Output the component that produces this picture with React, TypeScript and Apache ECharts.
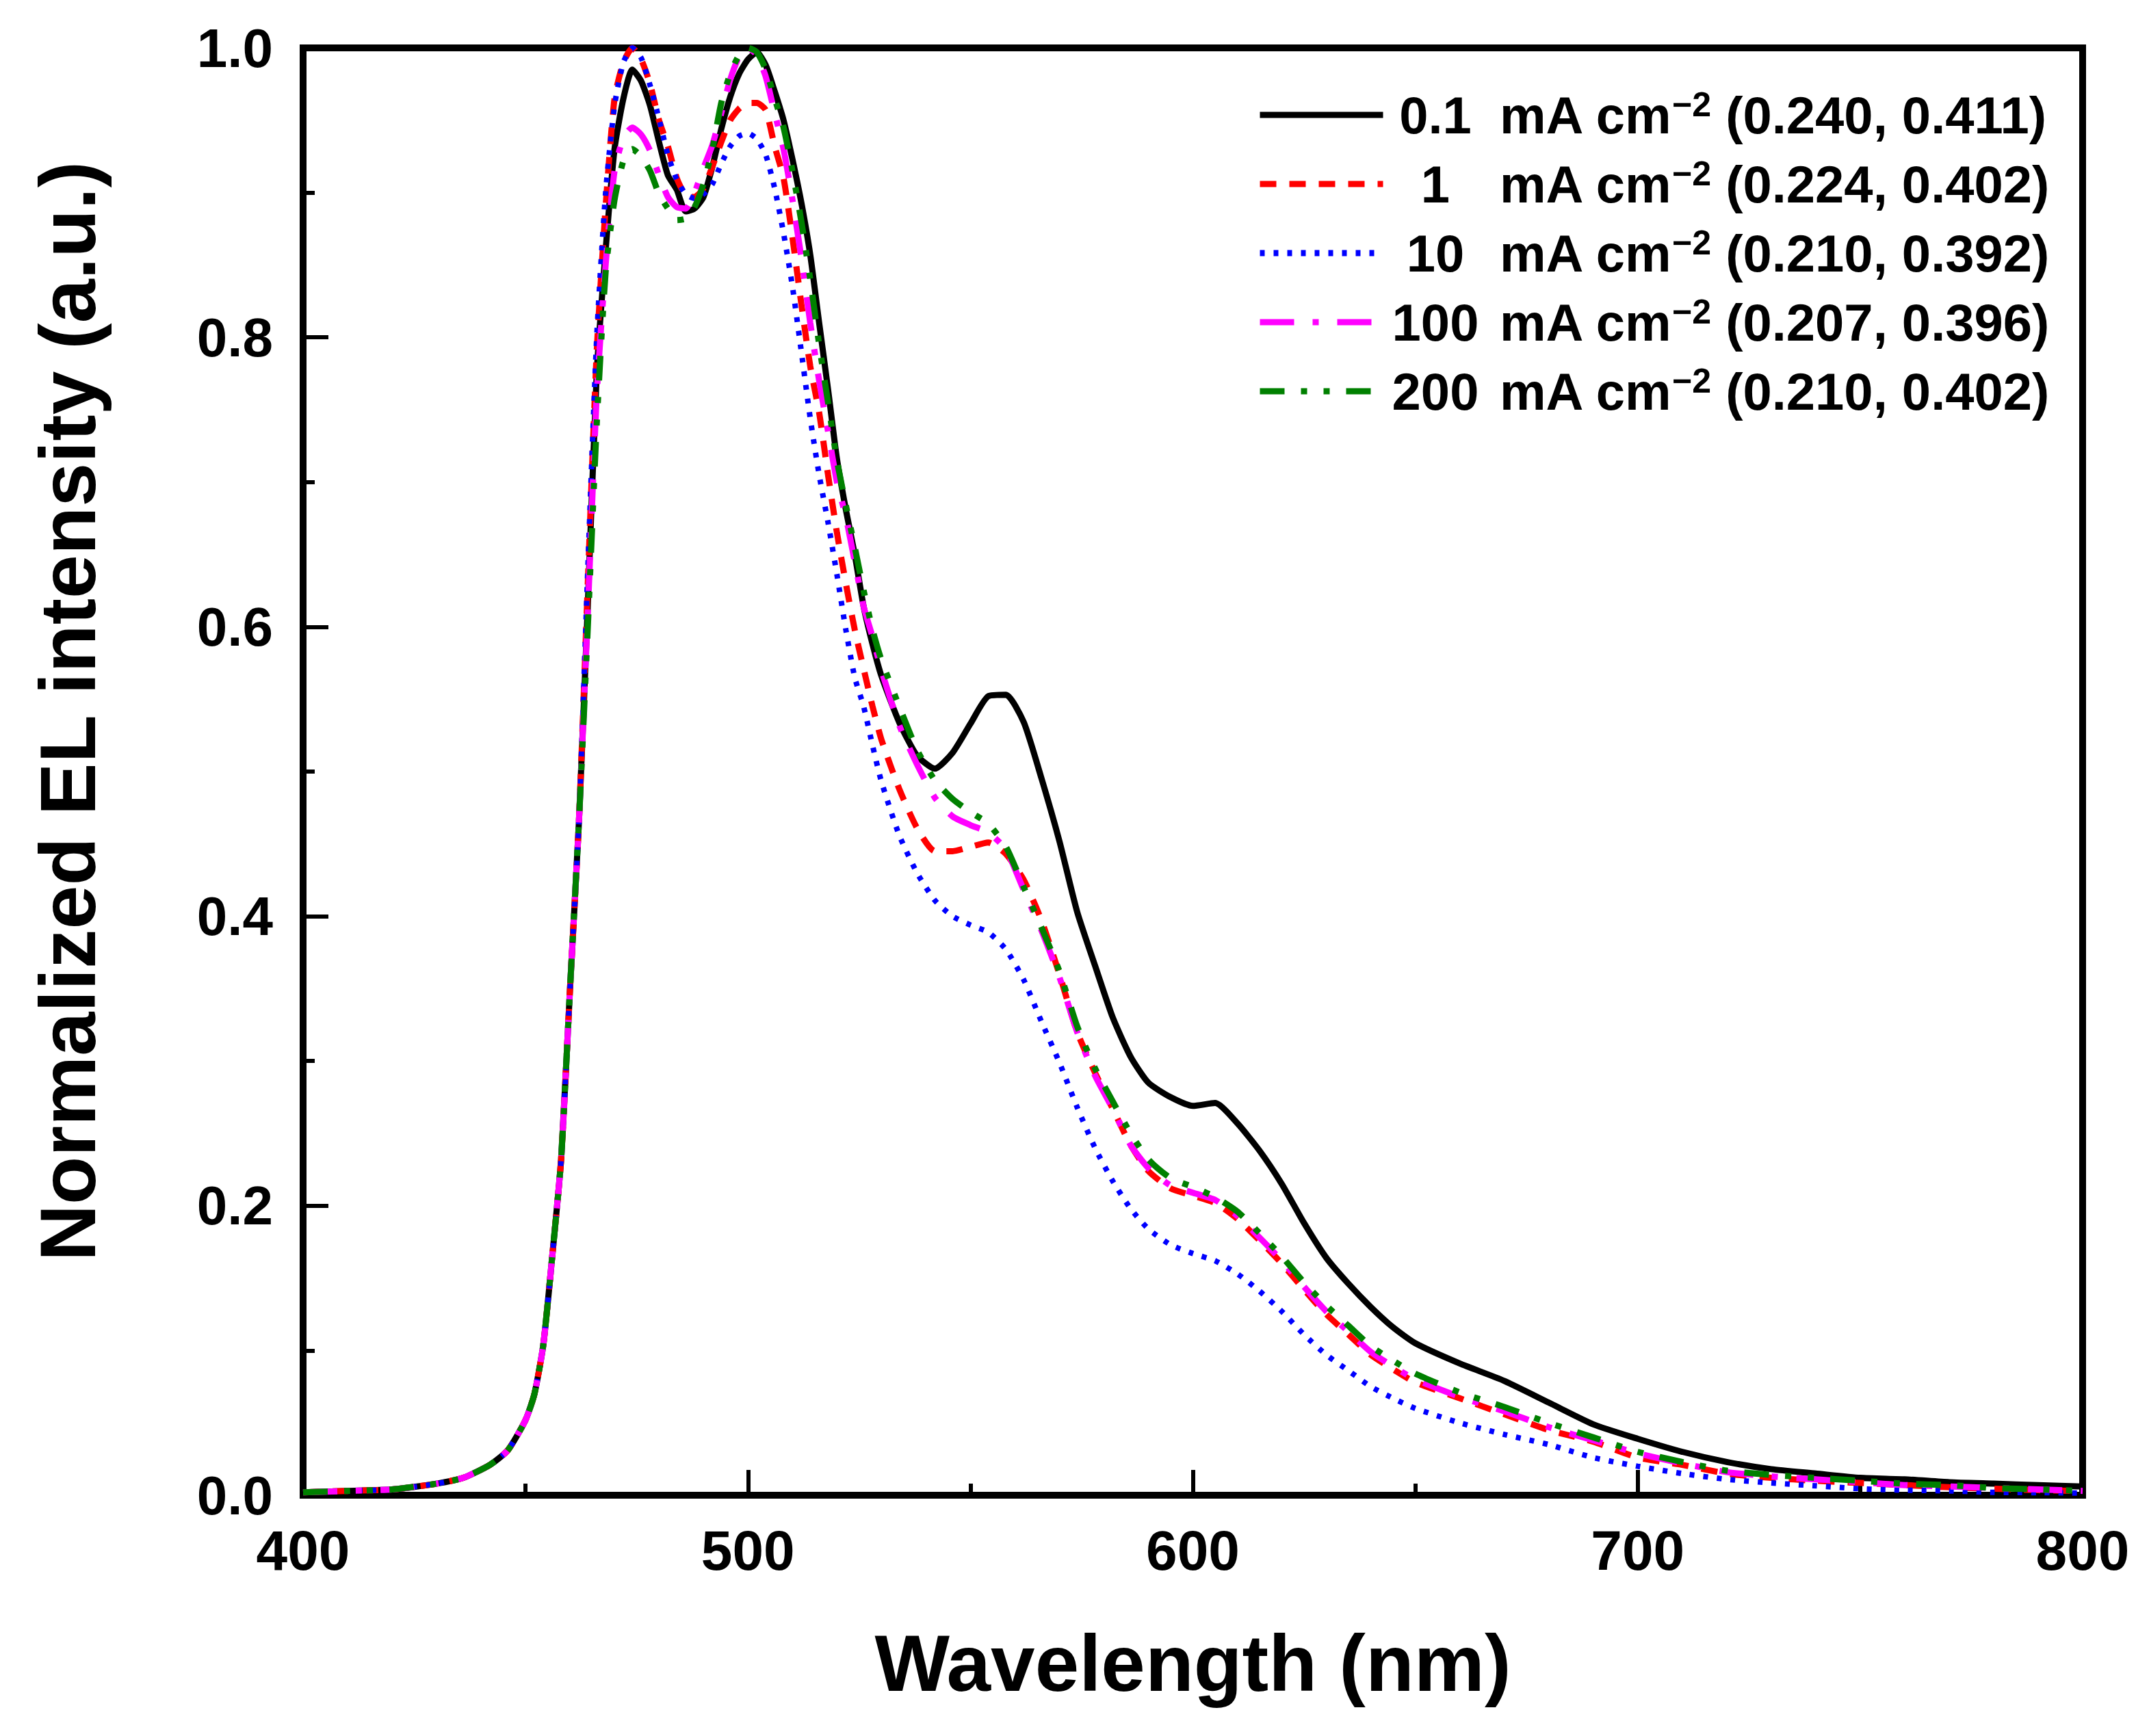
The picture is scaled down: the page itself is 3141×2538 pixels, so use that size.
import { useEffect, useRef } from 'react';
import * as echarts from 'echarts';

// 波长采样点 (nm)
const WAVELENGTH = [
  400, 410, 420, 430, 436, 442, 446, 450, 452, 454, 456, 458, 460, 462,
  464, 466, 468, 470, 472, 474, 476, 478, 480, 482, 484, 486, 488, 490, 492, 494, 496, 498, 500,
  502, 504, 506, 508, 510, 512, 514, 516, 518, 520, 522, 524, 526, 528, 530,
  534, 538, 542, 546, 550, 554, 558, 562, 566, 570, 574, 578, 582, 586, 590,
  595, 600, 605, 610, 615, 620, 625, 630, 635, 640, 645, 650,
  660, 670, 680, 690, 700, 710, 720, 730, 740, 750, 760, 770, 780, 790, 800,
];

// 上升沿（五条曲线几乎重合）
const RISE = [0.002, 0.003, 0.004, 0.008, 0.012, 0.021, 0.031, 0.052, 0.07, 0.104, 0.165, 0.232, 0.35, 0.465];

const EL_0_1 = [...RISE,
  0.615, 0.775, 0.86, 0.93, 0.965, 0.985, 0.977, 0.96, 0.935, 0.912, 0.902, 0.887, 0.889, 0.897, 0.918, 0.944, 0.966, 0.982, 0.992,
  0.997, 0.988, 0.97, 0.95, 0.923, 0.893, 0.857, 0.81, 0.764, 0.716, 0.681, 0.65, 0.614, 0.588, 0.566,
  0.534, 0.511, 0.502, 0.513, 0.533, 0.552, 0.553, 0.534, 0.495, 0.452, 0.403, 0.366, 0.33, 0.303, 0.285,
  0.275, 0.269, 0.271, 0.257, 0.238, 0.215, 0.188, 0.164, 0.146, 0.13, 0.116, 0.105,
  0.091, 0.079, 0.064, 0.049, 0.039, 0.03, 0.023, 0.018, 0.015, 0.012, 0.011, 0.009, 0.008, 0.007, 0.006];

const EL_1 = [...RISE,
  0.63, 0.79, 0.89, 0.965, 0.99, 1.0, 0.992, 0.975, 0.95, 0.932, 0.91, 0.898, 0.897, 0.903, 0.918, 0.935, 0.95, 0.958, 0.962,
  0.962, 0.957, 0.932, 0.91, 0.869, 0.823, 0.78, 0.748, 0.705, 0.665, 0.63, 0.598, 0.571, 0.545, 0.522,
  0.488, 0.461, 0.445, 0.445, 0.448, 0.451, 0.443, 0.425, 0.397, 0.36, 0.32, 0.292, 0.267, 0.242, 0.224,
  0.212, 0.207, 0.202, 0.191, 0.176, 0.16, 0.142, 0.125, 0.111, 0.097, 0.087, 0.078,
  0.067, 0.056, 0.045, 0.037, 0.026, 0.021, 0.015, 0.012, 0.01, 0.0085, 0.007, 0.0055, 0.0045, 0.0035, 0.003];

const EL_10 = [...RISE,
  0.64, 0.8, 0.9, 0.96, 0.99, 1.0, 0.993, 0.974, 0.951, 0.926, 0.909, 0.899, 0.896, 0.899, 0.906, 0.92, 0.932, 0.939, 0.941,
  0.937, 0.926, 0.903, 0.872, 0.835, 0.79, 0.744, 0.705, 0.672, 0.636, 0.598, 0.565, 0.545, 0.518, 0.493,
  0.456, 0.43, 0.411, 0.4, 0.394, 0.389, 0.377, 0.356, 0.327, 0.299, 0.268, 0.24, 0.217, 0.198, 0.184,
  0.173, 0.167, 0.162, 0.153, 0.141, 0.127, 0.111, 0.097, 0.086, 0.075, 0.067, 0.06,
  0.05, 0.042, 0.035, 0.026, 0.02, 0.015, 0.011, 0.0085, 0.0065, 0.0045, 0.0035, 0.003, 0.002, 0.0018, 0.0015];

const EL_100 = [...RISE,
  0.61, 0.76, 0.85, 0.915, 0.938, 0.945, 0.94, 0.929, 0.912, 0.897, 0.89, 0.889, 0.9, 0.917, 0.933, 0.955, 0.978, 0.994, 1.0,
  0.995, 0.98, 0.955, 0.93, 0.895, 0.855, 0.81, 0.77, 0.735, 0.7, 0.676, 0.645, 0.614, 0.593, 0.57,
  0.532, 0.505, 0.482, 0.469, 0.463, 0.458, 0.446, 0.418, 0.39, 0.358, 0.32, 0.29, 0.267, 0.242, 0.226,
  0.214, 0.209, 0.204, 0.193, 0.178, 0.162, 0.144, 0.127, 0.113, 0.099, 0.089, 0.08,
  0.068, 0.058, 0.047, 0.038, 0.029, 0.022, 0.016, 0.013, 0.011, 0.009, 0.007, 0.006, 0.005, 0.004, 0.003];

const EL_200 = [...RISE,
  0.6, 0.74, 0.845, 0.895, 0.922, 0.93, 0.925, 0.915, 0.899, 0.889, 0.881, 0.882, 0.89, 0.906, 0.93, 0.962, 0.982, 0.995, 1.0,
  0.997, 0.985, 0.965, 0.945, 0.915, 0.88, 0.84, 0.795, 0.755, 0.715, 0.684, 0.655, 0.625, 0.598, 0.577,
  0.545, 0.515, 0.494, 0.481, 0.472, 0.464, 0.448, 0.42, 0.392, 0.362, 0.324, 0.295, 0.272, 0.25, 0.232,
  0.219, 0.213, 0.206, 0.196, 0.181, 0.165, 0.147, 0.131, 0.117, 0.103, 0.093, 0.084,
  0.071, 0.061, 0.05, 0.04, 0.03, 0.023, 0.017, 0.014, 0.012, 0.01, 0.008, 0.007, 0.005, 0.004, 0.003];

// 图例：电流密度与 CIE 坐标
const CURRENT = ['0.1', '1', '10', '100', '200'];
const CIE = ['(0.240, 0.411)', '(0.224, 0.402)', '(0.210, 0.392)', '(0.207, 0.396)', '(0.210, 0.402)'];
const VALUES = [EL_0_1, EL_1, EL_10, EL_100, EL_200];

const COLORS = ['#000000', '#ff0000', '#0000ff', '#ff00ff', '#008000'];
const DASHES: any[] = ['solid', [24, 19], [7, 13], [50, 27, 9, 27], [36, 24, 9, 24, 9, 24]];
const WIDTHS = [9, 9, 8, 9, 9];

const FONT = 'Arial, "Liberation Sans", sans-serif';

const App: React.FC = () => {
  const chartRef = useRef<HTMLDivElement>(null);

  useEffect(() => {
    if (!chartRef.current) return;
    document.body.style.margin = '0';
    const chart = echarts.init(chartRef.current, undefined, { renderer: 'svg' });

    const names = CURRENT.map((c, i) => `${c} mA cm-2 ${CIE[i]}`);

    chart.setOption({
      animation: false,
      backgroundColor: '#ffffff',
      grid: {
        show: true,
        borderColor: '#000',
        borderWidth: 10,
        left: 443,
        right: 97,
        top: 70,
        bottom: 352,
      },
      legend: {
        orient: 'vertical',
        left: 1837,
        top: 128,
        padding: 0,
        itemWidth: 180,
        itemHeight: 40,
        itemGap: 23,
        selectedMode: false,
        itemStyle: { opacity: 0 },
        lineStyle: { width: 9 },
        data: names,
        formatter: (name: string) => {
          const i = names.indexOf(name);
          return `{n|${CURRENT[i]}}{u| mA cm}{s|\u22122}{u| ${CIE[i]}}`;
        },
        textStyle: {
          rich: {
            n: { width: 143, align: 'center', fontSize: 76, fontWeight: 'bold', fontFamily: FONT, lineHeight: 80, color: '#000' },
            u: { fontSize: 76, fontWeight: 'bold', fontFamily: FONT, lineHeight: 80, color: '#000' },
            s: { fontSize: 50, fontWeight: 'bold', fontFamily: FONT, lineHeight: 24, verticalAlign: 'top', color: '#000' },
          },
        },
      },
      xAxis: {
        type: 'value',
        min: 400,
        max: 800,
        interval: 100,
        name: 'Wavelength (nm)',
        nameLocation: 'middle',
        nameGap: 188,
        nameTextStyle: { fontSize: 116, fontWeight: 'bold', fontFamily: FONT, color: '#000' },
        axisLine: { lineStyle: { color: '#000', width: 10 } },
        axisTick: { inside: true, length: 37, lineStyle: { color: '#000', width: 6 } },
        minorTick: { show: true, splitNumber: 2, length: 17, lineStyle: { color: '#000', width: 6 } },
        axisLabel: { fontSize: 82, fontWeight: 'bold', fontFamily: FONT, color: '#000', margin: 39 },
        splitLine: { show: false },
      },
      yAxis: {
        type: 'value',
        min: 0,
        max: 1,
        interval: 0.2,
        axisLine: { show: true, lineStyle: { color: '#000', width: 10 } },
        axisTick: { show: true, inside: true, length: 37, lineStyle: { color: '#000', width: 6 } },
        minorTick: { show: true, splitNumber: 2, length: 17, lineStyle: { color: '#000', width: 6 } },
        axisLabel: {
          fontSize: 80, fontWeight: 'bold', fontFamily: FONT, color: '#000', margin: 44,
          formatter: (v: number) => v.toFixed(1),
        },
        splitLine: { show: false },
      },
      graphic: [
        {
          type: 'text',
          x: 99,
          y: 1040,
          rotation: Math.PI / 2,
          style: {
            text: 'Normalized EL intensity (a.u.)',
            fontSize: 115,
            fontWeight: 'bold',
            fontFamily: FONT,
            fill: '#000',
            align: 'center',
            verticalAlign: 'middle',
          },
        },
      ],
      series: VALUES.map((vals, i) => ({
        name: names[i],
        type: 'line',
        symbol: 'none',
        smooth: 0.2,
        silent: true,
        z: 2 + i,
        data: WAVELENGTH.map((w, k) => [w, vals[k]]),
        lineStyle: { color: COLORS[i], width: WIDTHS[i], type: DASHES[i] },
        itemStyle: { color: COLORS[i] },
      })),
    });

    return () => {
      chart.dispose();
    };
  }, []);

  return <div ref={chartRef} style={{ width: '3141px', height: '2538px' }} />;
};

export default App;
